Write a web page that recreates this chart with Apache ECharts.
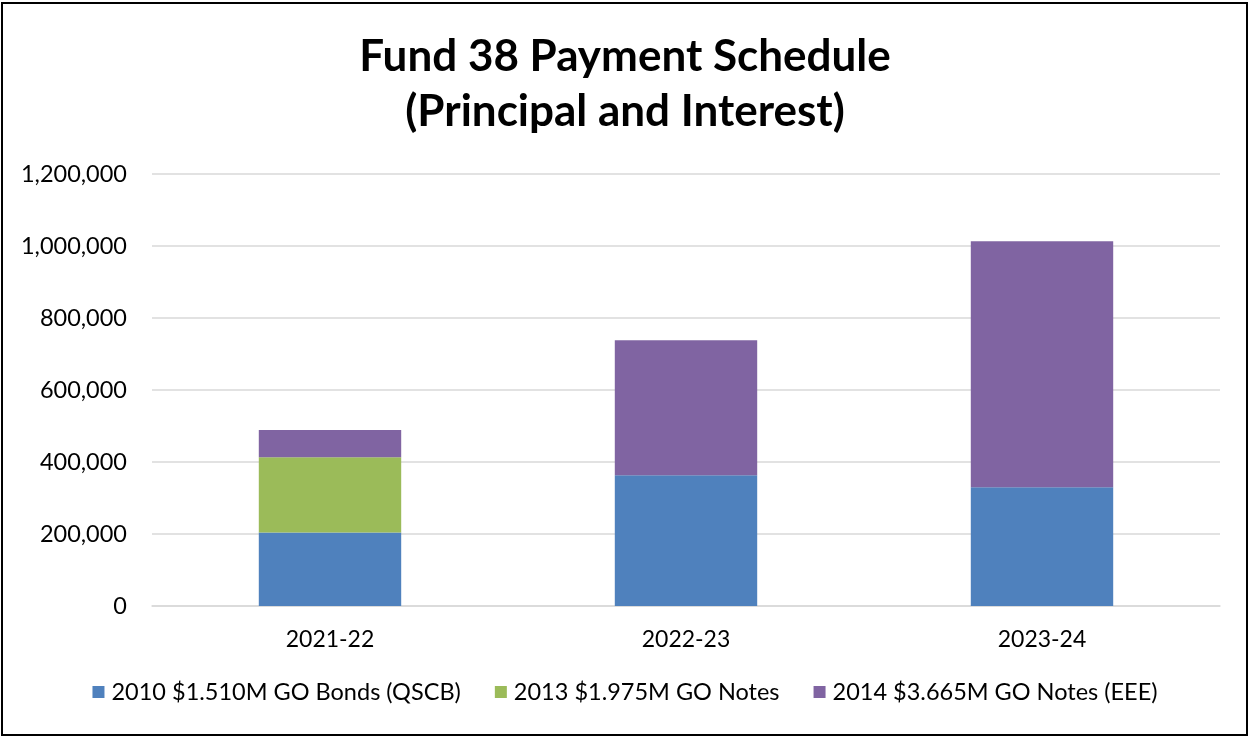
<!DOCTYPE html>
<html>
<head>
<meta charset="utf-8">
<script src="https://cdn.jsdelivr.net/npm/echarts@6/dist/echarts.min.js"></script>
<style>
html,body{margin:0;padding:0;background:#fff;}
#chart{width:1250px;height:737px;}
</style>
</head>
<body>
<div id="chart"></div>
<script>
const categories = ['2021-22', '2022-23', '2023-24'];
const seriesNames = ['2010 $1.510M GO Bonds (QSCB)', '2013 $1.975M GO Notes', '2014 $3.665M GO Notes (EEE)'];
const bonds2010 = [204000, 363000, 330000];
const notes2013 = [209000, 0, 0];
const notes2014 = [76000, 375000, 683000];
const colors = ['#4F81BD', '#9BBB59', '#8064A2'];

const FONT = 'Lato';
const chart = echarts.init(document.getElementById('chart'), null, {renderer: 'canvas'});
function mk(name, data, color) {
  return {
    name: name, type: 'bar', stack: 'total', data: data, barWidth: '40%',
    itemStyle: {color: color}
  };
}
chart.setOption({
  animation: false,
  backgroundColor: '#fff',
  title: {
    text: 'Fund 38 Payment Schedule\n(Principal and Interest)',
    left: 'center', top: 24,
    textStyle: {fontFamily: FONT, fontWeight: 'bold', fontSize: 44, lineHeight: 55, color: '#000'}
  },
  grid: {left: 152, right: 30, top: 174, bottom: 131, containLabel: false},
  legend: {
    bottom: 28, left: 'center', itemWidth: 12, itemHeight: 12, itemGap: 34,
    icon: 'rect',
    textStyle: {fontFamily: FONT, fontSize: 23.5, color: '#000', padding: [0, 0, 0, 2]},
    data: seriesNames
  },
  xAxis: {
    type: 'category', data: categories,
    axisLine: {lineStyle: {color: '#d9d9d9', width: 1.5}},
    axisTick: {show: false},
    axisLabel: {fontFamily: FONT, fontSize: 23, color: '#000', margin: 22}
  },
  yAxis: {
    type: 'value', min: 0, max: 1200000, interval: 200000,
    axisLine: {show: false}, axisTick: {show: false},
    splitLine: {lineStyle: {color: '#d9d9d9', width: 1.5}},
    axisLabel: {
      fontFamily: FONT, fontSize: 23.5, color: '#000', margin: 25,
      formatter: v => v.toLocaleString('en-US')
    }
  },
  series: [
    mk(seriesNames[0], bonds2010, colors[0]),
    mk(seriesNames[1], notes2013, colors[1]),
    mk(seriesNames[2], notes2014, colors[2])
  ],
  graphic: [{
    type: 'rect', shape: {x: 2, y: 3, width: 1245, height: 732},
    style: {fill: 'none', stroke: '#000', lineWidth: 2}, silent: true, z: 100
  }]
});
</script>
</body>
</html>
